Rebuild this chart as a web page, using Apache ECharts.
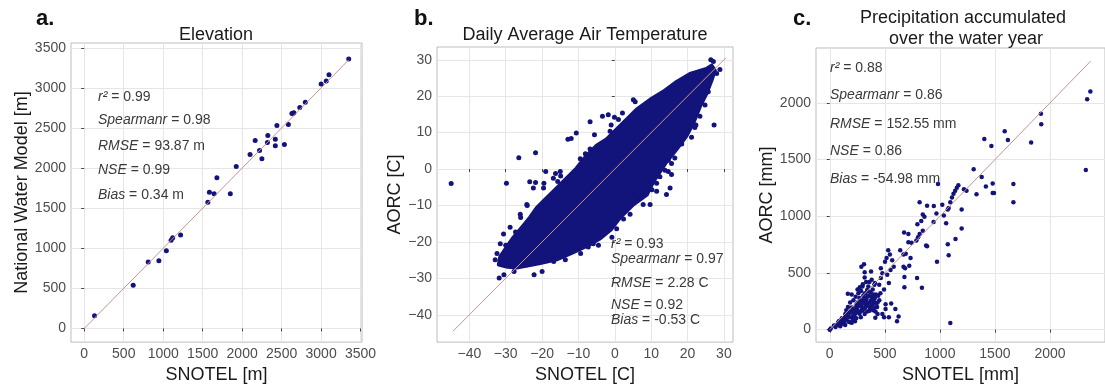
<!DOCTYPE html>
<html><head><meta charset="utf-8">
<script src="https://cdn.jsdelivr.net/npm/echarts@6/dist/echarts.min.js"></script>
<style>html,body{margin:0;padding:0;background:#fff}#c{width:1105px;height:389px}</style>
</head><body><div id="c"></div>
<script>
// ---------- Panel a: Elevation (SNOTEL vs National Water Model) ----------
const elevTicks = [0, 500, 1000, 1500, 2000, 2500, 3000, 3500];
const elevPoints = [
  [130,160],[620,540],[810,830],[945,845],[1040,970],[1100,1100],[1120,1130],[1220,1165],
  [1565,1575],[1585,1700],[1645,1680],[1680,1880],[1850,1680],[1925,2020],[2100,2170],
  [2165,2345],[2220,2220],[2250,2115],[2325,2405],[2320,2320],[2420,2360],[2420,2280],
  [2440,2530],[2535,2295],[2585,2545],[2630,2680],[2655,2690],[2645,2685],[2730,2755],
  [2800,2820],[3000,3050],[3065,3085],[3100,3165],[3350,3360]
];
const elevOneToOne = [0, 3350];

// ---------- Panel b: Daily average air temperature ----------
const tempTicks = [-40, -30, -20, -10, 0, 10, 20, 30];
// outline of the dense cloud of daily values
const tempCloud = [
  [26.6,28.4],[25.2,27.5],[20.7,26.1],[17.0,23.9],[13.3,21.2],[9.7,19.0],[6.0,16.3],[3.3,13.6],
  [0.5,10.9],[-2.2,8.2],[-5.0,6.4],[-7.7,3.7],[-10.5,0.2],[-13.2,-2.5],[-15.9,-5.2],[-18.7,-7.9],
  [-21.4,-10.6],[-23.3,-13.3],[-25.5,-16.0],[-27.8,-18.7],[-29.7,-21.4],[-31.5,-24.1],[-31.9,-26.2],
  [-29.5,-26.8],[-27.0,-27.0],[-23.0,-26.3],[-20.5,-25.8],[-16.0,-24.8],[-11.4,-22.8],[-7.5,-21.0],
  [-4.0,-19.0],[-1.0,-16.5],[1.4,-13.3],[5.1,-9.7],[8.8,-7.0],[10.6,-3.4],[12.4,-0.7],[14.2,2.0],
  [17.0,5.5],[19.7,9.1],[21.6,12.7],[23.4,17.2],[25.2,20.8],[26.6,24.4],[27.5,27.0]
];
// individually visible points around the cloud
const tempPoints = [
  [-45.0,-4.0],[-29.8,-3.9],[-26.4,3.1],[-21.8,4.5],[-23.4,-3.5],[-21.8,-3.7],[-22.4,-5.2],
  [-19.5,-3.9],[-19.0,-0.7],[-16.3,-1.2],[-15.7,-3.4],[-14.9,-1.9],[-12.9,8.2],[-12.0,8.4],
  [-10.6,9.9],[-8.1,4.2],[-9.0,0.9],
  [-6.8,13.0],[-5.6,9.4],[-3.4,14.5],[-1.8,14.9],[-1.0,12.1],[-0.1,14.2],[1.0,13.6],[2.1,15.4],
  [2.8,12.7],[4.2,13.1],[5.1,19.0],[5.6,18.5],[6.0,14.9],[22.3,12.1],[27.3,12.1],[28.9,27.3],
  [28.0,26.2],[26.4,30.0],[27.1,29.5],
  [14.7,2.4],[15.6,1.5],[13.8,-0.3],[14.7,-0.7],[12.4,-2.1],[11.5,-3.9],[10.2,-5.7],[18.4,6.9],
  [21.1,8.7],[22.0,11.4],[23.4,14.5],[24.8,17.6],[25.7,21.2],
  [3.7,-10.6],[2.4,-13.7],[0.5,-16.4],[-0.8,-18.7],[-4.5,-20.9],[-5.9,-20.5],[-7.3,-21.4],
  [5.6,-6.6],[7.0,-7.9],
  [-24.1,-10.0],[-25.9,-13.3],[-27.3,-17.3],[-30.0,-20.9],[-31.4,-24.9],[-31.8,-29.9],
  [-30.5,-29.0],[-27.7,-28.1],[-22.2,-29.0],[-20.0,-28.1],[-24.1,-26.3],[-16.8,-25.4],
  [-13.6,-24.9],[-9.4,-23.2],[-30.0,-23.2],[-29.1,-25.8],
  [-1.3,10.4],[-6.8,5.5],[-9.5,2.8],[-15.0,-0.7],[-16.9,-2.5],[-19.6,-5.2],[-24.2,-9.7],
  [-26.0,-12.4],[-28.8,-16.0],[-30.6,-17.8],[-31.5,-20.5],[-32.4,-23.2],[-32.9,-24.9],
  [11.5,-6.1],[7.8,-9.7],[4.2,-12.4],[15.2,-5.2],[9.7,-9.7],[14.2,-7.0],[15.6,-1.5],[16.5,3.0]
];
const tempOneToOne = [-44.5, 30.5];

// ---------- Panel c: Precipitation accumulated over the water year ----------
const precipTicks = [0, 500, 1000, 1500, 2000];
const precipPoints = [
  [2367,2101],[2338,2032],[2326,1408],[1918,1905],[1921,1813],[1829,1652],[1589,1750],[1618,1673],
  [1404,1681],[1468,1621],[1307,1416],[1380,1347],[1418,1263],[1480,1289],[1480,1206],[1492,1206],
  [1333,1194],[1668,1284],[1668,1123],[983,1284],[1168,1275],[1154,1252],[1139,1226],[1124,1198],
  [1110,1166],[1095,1123],[1080,1073],[1072,1060],[1219,1238],[1242,1226],[1198,1060],[1198,892],
  [1142,800],[1072,754],[1080,656],[1095,58],[1057,939],[1036,1008],[1022,1103],[969,1025],
  [943,950],[945,1091],[884,1094],[816,1125],[974,598],[845,1016],[860,996],[831,959],[796,930],
  [845,872],[816,844],[802,815],[787,786],[875,743],[884,735],[714,844],[675,858],[714,771],
  [743,766],[640,700],[670,662],[690,670],[734,633],[722,564],[684,541],[678,464],[793,455],
  [678,374],[837,369],[625,115],[611,75],[670,555],
  [531,700],[546,662],[516,633],[502,599],[567,613],[581,555],[552,527],[464,541],[478,498],
  [522,484],[464,455],[449,397],[537,412],[493,354],[311,576],[287,555],[317,507],[375,512],
  [317,460],[381,440],[411,412],[164,317],[199,311],[252,354],[273,374],[297,380],[346,339],
  [419,311],[390,268],[434,239],[507,224],[558,230],[596,181],[507,181],[537,109],[493,109],
  [478,138],[414,104],[434,138],[405,196],[361,167],[317,138],[282,110],[229,75],[185,66],
  [126,95],[82,75],[38,37],[9,9],[0,0],[53,23],[97,52],[170,138],[199,196],[243,224],[273,253],
  [317,282],[346,297],[361,239],[287,167],[229,138],[199,110],[141,138],[111,52],[258,153],
  [331,210],[390,354],[405,397],
  [60,40],[75,60],[90,50],[100,80],[120,70],[130,100],[150,90],[140,120],[160,130],[175,110],
  [180,160],[200,150],[210,180],[220,120],[230,170],[240,200],[250,180],[255,240],[265,210],
  [270,280],[280,230],[290,200],[300,260],[305,300],[310,230],[320,320],[325,250],[335,270],
  [340,350],[345,230],[355,300],[360,200],[370,330],[375,260],[380,290],[385,220],[395,310],
  [400,250],[410,280],[420,230],[150,170],[130,60],[165,200],[185,240],[215,260],[235,290],
  [260,320],[285,340],[300,400],[330,420],[350,380],[360,420],[240,100],[270,140],[300,170],
  [320,190],[340,160],[370,190],[395,170],[415,160],[440,300],[450,260],[460,320],[430,200],
  [110,100],[95,30],[140,40],[170,70],[200,60],[210,90]
];
const precipOneToOne = [0, 2370];

// ---------- styling ----------
const PT = '#13137c';
const LINE = '#c8958f';
const AX_FONT = 'Liberation Sans';
const tickStyle = {show: true, length: 3, inside: false, lineStyle: {color: '#444', width: 1}};
const splitStyle = {show: true, lineStyle: {color: '#e6e6e6', width: 1}};
function fmt(v) { return v < 0 ? '\u2212' + Math.abs(v) : String(v); }
function axisCommon(idx, min, max, ticks, name, gap) {
  return {
    type: 'value', gridIndex: idx, min: min, max: max,
    axisLine: {show: false},
    axisTick: Object.assign({customValues: ticks}, tickStyle),
    axisLabel: {customValues: ticks, formatter: fmt, color: '#4d4d4d', fontSize: 14, fontFamily: AX_FONT, margin: 5},
    splitLine: splitStyle,
    name: name, nameLocation: 'middle', nameGap: gap,
    nameTextStyle: {fontSize: 18, color: '#1a1a1a', fontFamily: AX_FONT}
  };
}
function diag(r) { return [[r[0], r[0]], [r[1], r[1]]]; }
function lineSeries(idx, r) {
  return {type: 'line', xAxisIndex: idx, yAxisIndex: idx, data: diag(r), symbol: 'none',
    lineStyle: {color: LINE, width: 1}, z: 5, silent: true};
}
function scatterSeries(idx, data, size) {
  return {type: 'scatter', xAxisIndex: idx, yAxisIndex: idx, data: data, symbolSize: size,
    itemStyle: {color: PT, opacity: 1}, z: 3, silent: true};
}

const ANN_FONT = 'Liberation Sans';
function annot(x, ys, lines) {
  return lines.map(function (l, i) {
    return {type: 'text', x: x, y: ys[i], silent: true, z: 10,
      style: {text: '{i|' + l[0] + '}{n|' + l[1] + '}', verticalAlign: 'middle', align: 'left',
        rich: {i: {fontStyle: 'italic', fontSize: 14, fontFamily: ANN_FONT, fill: '#3a3a3a'},
               n: {fontSize: 14, fontFamily: ANN_FONT, fill: '#3a3a3a'}}}};
  });
}
function label(text, x, y, opt) {
  return {type: 'text', x: x, y: y, silent: true,
    style: Object.assign({text: text, fill: '#1a1a1a', fontFamily: AX_FONT, fontSize: 18,
      align: 'center', verticalAlign: 'middle'}, opt || {})};
}

const chart = echarts.init(document.getElementById('c'), null, {renderer: 'canvas'});
const graphics = [].concat(
  [label('a.', 36, 19, {fontSize: 22, fontWeight: 'bold', align: 'left', fill: '#111'}),
   label('b.', 414, 19, {fontSize: 22, fontWeight: 'bold', align: 'left', fill: '#111'}),
   label('c.', 793, 19, {fontSize: 22, fontWeight: 'bold', align: 'left', fill: '#111'}),
   label('Elevation', 216, 35),
   label('Daily Average Air Temperature', 585, 35),
   label('Precipitation accumulated', 963, 18),
   label('over the water year', 966, 39)],
  annot(98, [97, 120, 146, 170, 195], [['r²', ' = 0.99'], ['Spearmanr', ' = 0.98'], ['RMSE', ' = 93.87 m'], ['NSE', ' = 0.99'], ['Bias', ' = 0.34 m']]),
  annot(611, [244, 259, 283, 305, 320], [['r²', ' = 0.93'], ['Spearmanr', ' = 0.97'], ['RMSE', ' = 2.28 C'], ['NSE', ' = 0.92'], ['Bias', ' = -0.53 C']]),
  annot(830, [68, 95, 124, 151, 179], [['r²', ' = 0.88'], ['Spearmanr', ' = 0.86'], ['RMSE', ' = 152.55 mm'], ['NSE', ' = 0.86'], ['Bias', ' = -54.98 mm']])
);

chart.setOption({
  animation: false,
  backgroundColor: '#fff',
  grid: [
    {left: 71, top: 43, width: 291, height: 304, show: true, borderColor: '#bdbdbd', borderWidth: 1, backgroundColor: '#fff'},
    {left: 437, top: 47, width: 296, height: 300, show: true, borderColor: '#bdbdbd', borderWidth: 1, backgroundColor: '#fff'},
    {left: 816, top: 48, width: 298, height: 300, show: true, borderColor: '#bdbdbd', borderWidth: 1, backgroundColor: '#fff'}
  ],
  xAxis: [
    axisCommon(0, -168, 3518, elevTicks, 'SNOTEL [m]', 22),
    axisCommon(1, -48.9, 32.5, tempTicks, 'SNOTEL [C]', 22),
    axisCommon(2, -125, 2500, precipTicks, 'SNOTEL [mm]', 22)
  ],
  yAxis: [
    axisCommon(0, -170, 3560, elevTicks, 'National Water Model [m]', 34),
    axisCommon(1, -47.5, 33.5, tempTicks, 'AORC [C]', 30),
    axisCommon(2, -110, 2485, precipTicks, 'AORC [mm]', 33)
  ],
  graphic: graphics,
  series: [
    scatterSeries(0, elevPoints, 5),
    lineSeries(0, elevOneToOne),
    {
      type: 'custom', xAxisIndex: 1, yAxisIndex: 1, data: [0], z: 2, silent: true,
      renderItem: function (params, api) {
        const pts = tempCloud.map(function (p) { return api.coord(p); });
        return {type: 'polygon', shape: {points: pts},
          style: {fill: PT, stroke: PT, lineWidth: 4, lineJoin: 'round'}};
      }
    },
    scatterSeries(1, tempPoints, 5),
    lineSeries(1, tempOneToOne),
    scatterSeries(2, precipPoints, 4.5),
    lineSeries(2, precipOneToOne)
  ]
});
</script>
</body></html>
